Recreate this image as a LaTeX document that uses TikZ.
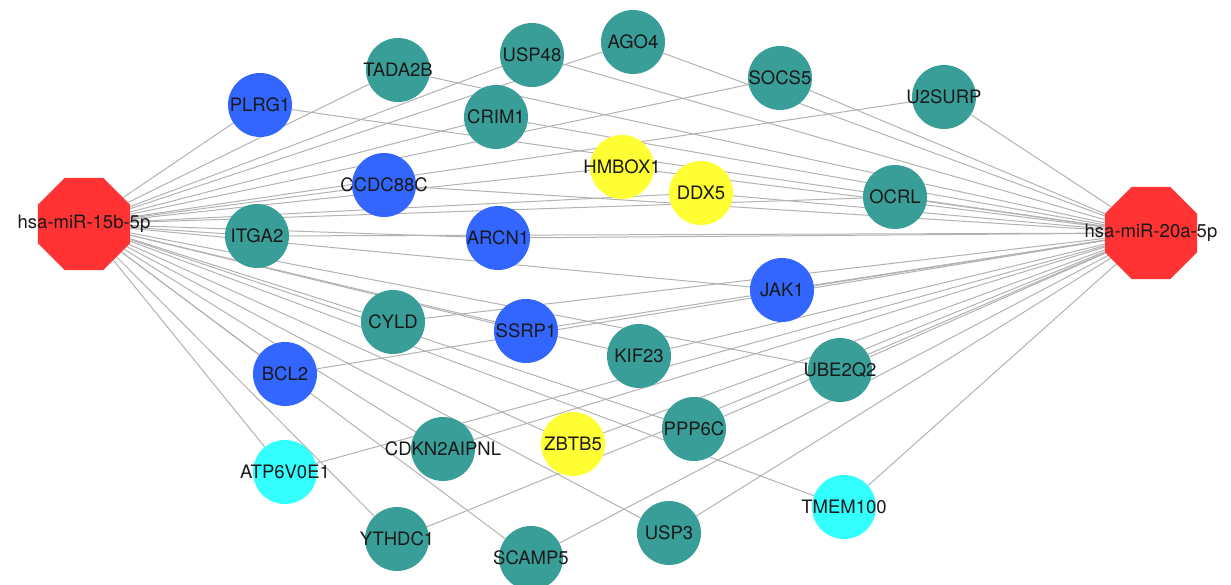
\documentclass[tikz,border=0pt]{standalone}
\usepackage{fontspec}
\setmainfont{TeX Gyre Heros}
\usetikzlibrary{shapes.geometric, backgrounds}

\definecolor{mirred}{RGB}{255,51,51}
\definecolor{geneteal}{RGB}{58,158,152}
\definecolor{geneblue}{RGB}{51,102,255}
\definecolor{geneyellow}{RGB}{255,255,51}
\definecolor{genecyan}{RGB}{51,255,255}
\definecolor{edgegray}{RGB}{178,178,178}
\newcommand{\genefont}{\fontsize{18.5}{20}\selectfont}

\begin{document}
\begin{tikzpicture}[x=1pt, y=-1pt,
  every label/.style={font=\genefont, text=black!90, inner sep=0pt},
  mirna/.style={regular polygon, regular polygon sides=8, minimum size=100pt, inner sep=0pt, fill=mirred, label={center:#1}},
  gene/.style={circle, minimum size=64pt, inner sep=0pt, label={center:#1}},
  edge/.style={draw=edgegray, line width=1pt}]

\useasboundingbox (0,0) rectangle (1231,585);

\node[mirna=hsa-miR-15b-5p] at (84,224) (mira) {};
\node[mirna=hsa-miR-20a-5p] at (1151,233) (mirb) {};

\node[gene=TADA2B, fill=geneteal] at (398,70) (tada2b) {};
\node[gene=USP48, fill=geneteal] at (532,55) (usp48) {};
\node[gene=AGO4, fill=geneteal] at (633,42) (ago4) {};
\node[gene=SOCS5, fill=geneteal] at (780,78) (socs5) {};
\node[gene=U2SURP, fill=geneteal] at (944,97) (u2surp) {};
\node[gene=PLRG1, fill=geneblue] at (260,105) (plrg1) {};
\node[gene=CRIM1, fill=geneteal] at (496,117) (crim1) {};
\node[gene=HMBOX1, fill=geneyellow] at (622,167) (hmbox1) {};
\node[gene=DDX5, fill=geneyellow] at (701,193) (ddx5) {};
\node[gene=CCDC88C, fill=geneblue] at (384,185) (ccdc88c) {};
\node[gene=OCRL, fill=geneteal] at (895,197) (ocrl) {};
\node[gene=ITGA2, fill=geneteal] at (257,236) (itga2) {};
\node[gene=ARCN1, fill=geneblue] at (498,238) (arcn1) {};
\node[gene=JAK1, fill=geneblue] at (782,290) (jak1) {};
\node[gene=CYLD, fill=geneteal] at (393,322) (cyld) {};
\node[gene=SSRP1, fill=geneblue] at (526,331) (ssrp1) {};
\node[gene=KIF23, fill=geneteal] at (639,356) (kif23) {};
\node[gene=UBE2Q2, fill=geneteal] at (840,370) (ube2q2) {};
\node[gene=BCL2, fill=geneblue] at (285,374) (bcl2) {};
\node[gene=PPP6C, fill=geneteal] at (694,429) (ppp6c) {};
\node[gene=ZBTB5, fill=geneyellow] at (573,444) (zbtb5) {};
\node[gene=CDKN2AIPNL, fill=geneteal] at (443,449) (cdkn2aipnl) {};
\node[gene=ATP6V0E1, fill=genecyan] at (285,472) (atp6v0e1) {};
\node[gene=TMEM100, fill=genecyan] at (844,507) (tmem100) {};
\node[gene=YTHDC1, fill=geneteal] at (397,539) (ythdc1) {};
\node[gene=SCAMP5, fill=geneteal] at (531,558) (scamp5) {};
\node[gene=USP3, fill=geneteal] at (669,533) (usp3) {};

\begin{scope}[on background layer]
% hsa-miR-15b-5p targets
\draw [edge] (mira) to (tada2b);
\draw [edge] (mira) to (usp48);
\draw [edge] (mira) to (ago4);
\draw [edge] (mira) to (socs5);
\draw [edge] (mira) to (u2surp);
\draw [edge] (mira) to (plrg1);
\draw [edge] (mira) to (crim1);
\draw [edge] (mira) to (hmbox1);
\draw [edge] (mira) to (ddx5);
\draw [edge] (mira) to (ccdc88c);
\draw [edge] (mira) to (ocrl);
\draw [edge] (mira) to (itga2);
\draw [edge] (mira) to (arcn1);
\draw [edge] (mira) to (jak1);
\draw [edge] (mira) to (cyld);
\draw [edge] (mira) to (ssrp1);
\draw [edge] (mira) to (kif23);
\draw [edge] (mira) to (ube2q2);
\draw [edge] (mira) to (bcl2);
\draw [edge] (mira) to (ppp6c);
\draw [edge] (mira) to (zbtb5);
\draw [edge] (mira) to (cdkn2aipnl);
\draw [edge] (mira) to (atp6v0e1);
\draw [edge] (mira) to (tmem100);
\draw [edge] (mira) to (ythdc1);
\draw [edge] (mira) to (scamp5);
\draw [edge] (mira) to (usp3);

% hsa-miR-20a-5p targets
\draw [edge] (mirb) to (tada2b);
\draw [edge] (mirb) to (usp48);
\draw [edge] (mirb) to (ago4);
\draw [edge] (mirb) to (socs5);
\draw [edge] (mirb) to (u2surp);
\draw [edge] (mirb) to (plrg1);
\draw [edge] (mirb) to (crim1);
\draw [edge] (mirb) to (hmbox1);
\draw [edge] (mirb) to (ddx5);
\draw [edge] (mirb) to (ccdc88c);
\draw [edge] (mirb) to (ocrl);
\draw [edge] (mirb) to (itga2);
\draw [edge] (mirb) to (arcn1);
\draw [edge] (mirb) to (jak1);
\draw [edge] (mirb) to (cyld);
\draw [edge] (mirb) to (ssrp1);
\draw [edge] (mirb) to (kif23);
\draw [edge] (mirb) to (ube2q2);
\draw [edge] (mirb) to (bcl2);
\draw [edge] (mirb) to (ppp6c);
\draw [edge] (mirb) to (zbtb5);
\draw [edge] (mirb) to (cdkn2aipnl);
\draw [edge] (mirb) to (atp6v0e1);
\draw [edge] (mirb) to (tmem100);
\draw [edge] (mirb) to (ythdc1);
\draw [edge] (mirb) to (scamp5);
\draw [edge] (mirb) to (usp3);
\end{scope}

\end{tikzpicture}
\end{document}
